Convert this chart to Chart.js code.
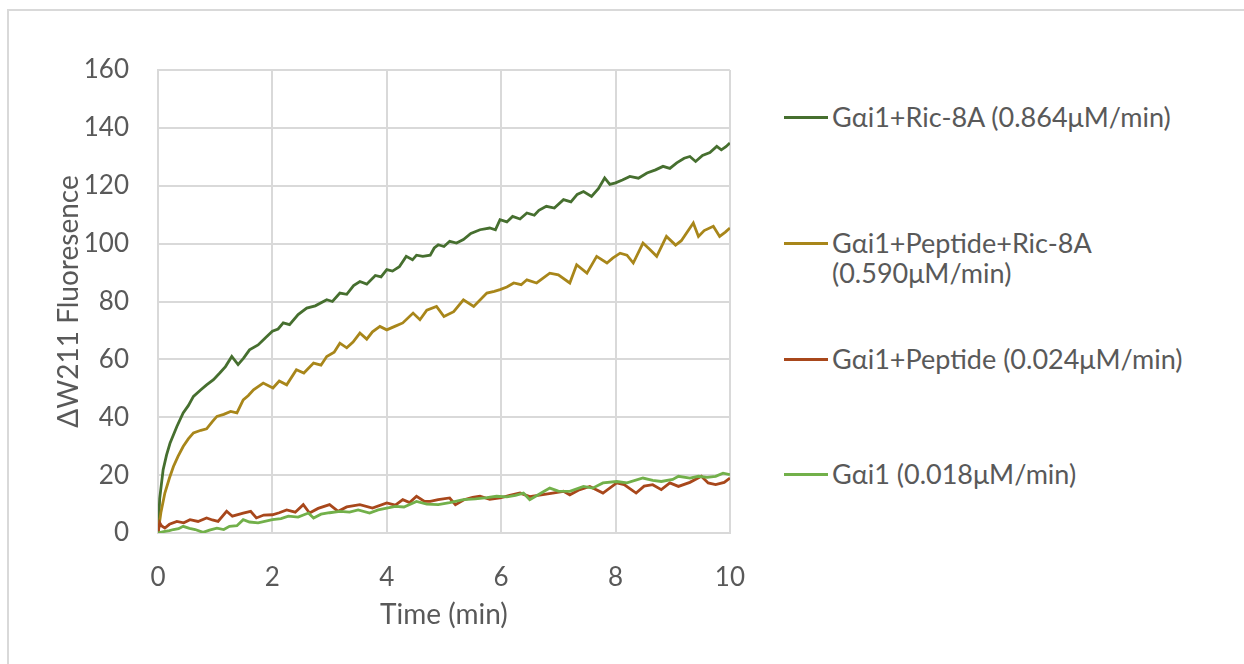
<!DOCTYPE html>
<html>
<head>
<meta charset="utf-8">
<script src="https://cdn.jsdelivr.net/npm/chart.js@4"></script>
<style>
  html, body { margin: 0; padding: 0; background: #fff; overflow: hidden; }
  body { width: 1244px; height: 664px; position: relative; font-family: Lato, "Open Sans", sans-serif; }
  #frame { position: absolute; left: 7px; top: 9px; width: 1300px; height: 700px; border: 2px solid #d9d9d9; box-sizing: border-box; }
  #wrap { position: absolute; left: 0; top: 0; width: 774px; height: 664px; }
  #legend { position: absolute; left: 784px; top: 0; }
  .item { position: absolute; left: 0; display: flex; align-items: flex-start; white-space: nowrap; color: #595959; font-size: 27px; line-height: 30px; }
  .swatch { width: 44px; height: 3px; margin-top: 14px; margin-right: 4px; flex: none; }
</style>
</head>
<body>
<div id="frame"></div>
<div id="wrap"><canvas id="kinetics"></canvas></div>
<div id="legend"></div>
<script>
// series labels and colours
const seriesNames = [
  ["Gαi1+Ric-8A (0.864μM/min)"],
  ["Gαi1+Peptide+Ric-8A", "(0.590μM/min)"],
  ["Gαi1+Peptide (0.024μM/min)"],
  ["Gαi1 (0.018μM/min)"]
];
const seriesColors = ["#466f2f", "#a8861a", "#a8471b", "#72b04a"];
const xTicks = [0, 2, 4, 6, 8, 10];

// Gαi1+Ric-8A
const ric8aTime = [
  0, 0.03, 0.09, 0.15, 0.21, 0.33, 0.44, 0.53, 0.62, 0.75,
  0.85, 0.97, 1.08, 1.18, 1.29, 1.40, 1.50, 1.60, 1.75, 1.88,
  2.0, 2.10, 2.19, 2.30, 2.45, 2.60, 2.75, 2.95, 3.05, 3.18,
  3.30, 3.42, 3.53, 3.65, 3.80, 3.90, 4.0, 4.10, 4.22, 4.34,
  4.45, 4.52, 4.63, 4.76, 4.83, 4.90, 5.0, 5.1, 5.22, 5.34,
  5.47, 5.63, 5.80, 5.90, 5.98, 6.1, 6.2, 6.33, 6.45, 6.58,
  6.66, 6.79, 6.93, 7.09, 7.22, 7.33, 7.44, 7.58, 7.70, 7.81,
  7.90, 8.0, 8.12, 8.25, 8.40, 8.55, 8.70, 8.83, 8.95, 9.07,
  9.20, 9.30, 9.40, 9.52, 9.65, 9.77, 9.85, 9.93, 10
];
const ric8aVals = [
  0, 12, 21.9, 27, 31, 36.8, 41.5, 44, 47.2, 49.5,
  51.2, 53, 55.3, 57.5, 61, 58.2, 60.5, 63.3, 65, 67.5,
  69.7, 70.5, 72.6, 72, 75.5, 77.7, 78.5, 80.6, 80, 82.9,
  82.5, 85.5, 86.9, 86, 89, 88.5, 91, 90.5, 92, 95.6,
  94.4, 96, 95.6, 96, 98.5, 99.6, 99, 100.8, 100.2, 101.4,
  103.5, 104.8, 105.4, 104.8, 108.3, 107.5, 109.4, 108.5, 110.6, 109.8,
  111.5, 112.9, 112.3, 115.2, 114.4, 117, 118, 116.3, 119, 122.7,
  120.5, 121, 122, 123.2, 122.6, 124.4, 125.5, 126.7, 126, 127.9,
  129.5, 130.1, 128.4, 130.5, 131.5, 133.6, 132.4, 133.5, 134.8
];

// Gαi1+Peptide+Ric-8A
const pepRicTime = [
  0, 0.05, 0.12, 0.20, 0.27, 0.35, 0.44, 0.53, 0.62, 0.75,
  0.85, 0.95, 1.03, 1.15, 1.27, 1.38, 1.49, 1.58, 1.67, 1.84,
  2.01, 2.12, 2.25, 2.42, 2.55, 2.72, 2.85, 2.95, 3.08, 3.18,
  3.30, 3.41, 3.53, 3.65, 3.75, 3.88, 4.0, 4.15, 4.28, 4.46,
  4.58, 4.70, 4.87, 5.0, 5.17, 5.34, 5.52, 5.75, 5.88, 5.98,
  6.10, 6.22, 6.35, 6.45, 6.62, 6.85, 7.00, 7.20, 7.32, 7.50,
  7.67, 7.85, 7.95, 8.08, 8.20, 8.31, 8.48, 8.60, 8.72, 8.89,
  9.05, 9.15, 9.36, 9.45, 9.55, 9.71, 9.82, 9.92, 10
];
const pepRicVals = [
  0, 7, 13.8, 19, 23, 26.5, 29.9, 32.5, 34.6, 35.5,
  36, 38.5, 40.3, 41, 42, 41.5, 46, 47.5, 49.5, 51.8,
  50.1, 52.5, 51.2, 56.4, 55.3, 58.7, 58, 61, 62.5, 65.6,
  64, 66, 69.1, 67, 69.5, 71.4, 70.2, 71.5, 72.6, 76,
  73.7, 77, 78.3, 74.8, 76.5, 80.6, 78.3, 82.9, 83.5, 84.1,
  85, 86.4, 85.8, 87.5, 86.4, 89.8, 89.2, 86.4, 92.7, 89.8,
  95.6, 93.3, 95, 96.7, 96, 93.3, 100.2, 98, 95.6, 102.5,
  99.5, 101, 107.1, 102.5, 104.5, 106, 102.5, 104, 105.4
];

// Gαi1+Peptide
const pepTime = [
  0, 0.03, 0.06, 0.12, 0.20, 0.33, 0.45, 0.56, 0.70, 0.85,
  0.95, 1.05, 1.2, 1.3, 1.49, 1.62, 1.72, 1.85, 2.0, 2.12,
  2.25, 2.40, 2.54, 2.65, 2.80, 3.0, 3.15, 3.30, 3.53, 3.75,
  4.0, 4.15, 4.28, 4.40, 4.52, 4.66, 4.76, 4.90, 5.1, 5.2,
  5.35, 5.50, 5.63, 5.80, 5.98, 6.15, 6.33, 6.50, 6.70, 6.90,
  7.09, 7.20, 7.35, 7.55, 7.78, 8.02, 8.15, 8.36, 8.50, 8.65,
  8.80, 8.95, 9.10, 9.30, 9.50, 9.62, 9.75, 9.90, 10
];
const pepVals = [
  0, 3.5, 2.5, 1.7, 3, 4, 3.5, 4.6, 4, 5.2,
  4.5, 4, 7.5, 5.8, 6.9, 7.5, 5.2, 6.2, 6.3, 7,
  8, 7.2, 9.8, 6.9, 8.5, 9.8, 7.5, 9, 9.8, 8.6,
  10.4, 9.6, 11.5, 10.5, 12.7, 10.9, 10.9, 11.5, 12.1, 9.8,
  11.5, 12.3, 12.7, 11.6, 12.1, 13, 13.8, 12.6, 13.2, 13.8,
  14.4, 13.2, 14.8, 16.1, 13.8, 17.3, 16.7, 13.8, 16.2, 16.7,
  15, 17.3, 16.1, 17.5, 19.6, 17.3, 16.7, 17.5, 19
];

// Gαi1 alone
const gaiTime = [
  0, 0.1, 0.2, 0.27, 0.36, 0.44, 0.55, 0.65, 0.79, 0.90,
  1.03, 1.15, 1.25, 1.38, 1.49, 1.60, 1.75, 2.0, 2.15, 2.28,
  2.45, 2.63, 2.72, 2.85, 3.0, 3.18, 3.35, 3.50, 3.70, 3.85,
  4.0, 4.15, 4.30, 4.52, 4.70, 4.90, 5.10, 5.34, 5.55, 5.75,
  5.92, 6.10, 6.25, 6.39, 6.50, 6.70, 6.85, 7.0, 7.2, 7.44,
  7.60, 7.78, 8.02, 8.20, 8.48, 8.65, 8.80, 9.0, 9.1, 9.30,
  9.45, 9.60, 9.75, 9.88, 10
];
const gaiVals = [
  0, 0.5, 0.8, 1.2, 1.5, 2.3, 1.6, 1.2, 0.2, 1,
  1.7, 1.2, 2.3, 2.5, 4.6, 3.8, 3.5, 4.6, 5, 5.8,
  5.5, 6.9, 5.2, 6.5, 7, 7.5, 7.2, 8, 6.9, 8,
  8.6, 9.2, 9, 10.9, 10, 9.8, 10.5, 11.5, 11.8, 12.2,
  12.7, 12.5, 13, 13.8, 11.5, 13.8, 15.5, 14.5, 14.4, 16.1,
  15.5, 17.3, 17.8, 17.3, 19, 18.2, 17.8, 18.5, 19.6, 19,
  19.6, 19.2, 19.6, 20.7, 20.2
];

const times = [ric8aTime, pepRicTime, pepTime, gaiTime];
const values = [ric8aVals, pepRicVals, pepVals, gaiVals];

function pairs(t, v) {
  return t.map((x, i) => ({ x: x, y: v[i] }));
}

const datasets = values.map((v, i) => ({
  label: seriesNames[i].join(' '),
  data: pairs(times[i], v),
  borderColor: seriesColors[i],
  borderWidth: 2.8,
  pointRadius: 0,
  tension: 0,
  fill: false,
  order: 4 - i
}));

const tickFont = { family: 'Lato', size: 26 };
const titleFont = { family: 'Lato', size: 28 };

new Chart(document.getElementById('kinetics'), {
  type: 'line',
  data: { datasets: datasets },
  options: {
    responsive: true,
    maintainAspectRatio: false,
    animation: false,
    layout: { padding: { top: 70, right: 0, left: 0, bottom: 0 } },
    plugins: { legend: { display: false }, tooltip: { enabled: false } },
    scales: {
      x: {
        type: 'linear',
        min: 0,
        max: 10,
        afterBuildTicks: s => { s.ticks = xTicks.map(v => ({ value: v })); },
        afterFit: s => { s.height = 131; },
        grid: { color: '#d9d9d9', lineWidth: 2, drawTicks: false },
        border: { color: '#d9d9d9', width: 2 },
        ticks: { color: '#595959', font: tickFont, padding: 29, maxRotation: 0 },
        title: { display: true, text: 'Time (min)', color: '#595959', font: titleFont, padding: { top: 0, bottom: 32 } }
      },
      y: {
        min: 0,
        max: 160,
        ticks: { stepSize: 20, color: '#595959', font: tickFont, padding: 29 },
        afterFit: s => { s.width = 158; },
        grid: { color: '#d9d9d9', lineWidth: 2, drawTicks: false },
        border: { color: '#d9d9d9', width: 2 },
        title: { display: true, text: 'ΔW211 Fluoresence', color: '#595959', font: titleFont, padding: { top: 52, bottom: 0 } }
      }
    }
  }
});

// legend drawn as html text beside the plot
const legendTops = [102, 228, 344, 459];
const legend = document.getElementById('legend');
seriesNames.forEach((lines, i) => {
  const item = document.createElement('div');
  item.className = 'item';
  item.style.top = legendTops[i] + 'px';
  const sw = document.createElement('span');
  sw.className = 'swatch';
  sw.style.background = seriesColors[i];
  const txt = document.createElement('span');
  txt.innerHTML = lines.join('<br>');
  item.appendChild(sw);
  item.appendChild(txt);
  legend.appendChild(item);
});
</script>
</body>
</html>
